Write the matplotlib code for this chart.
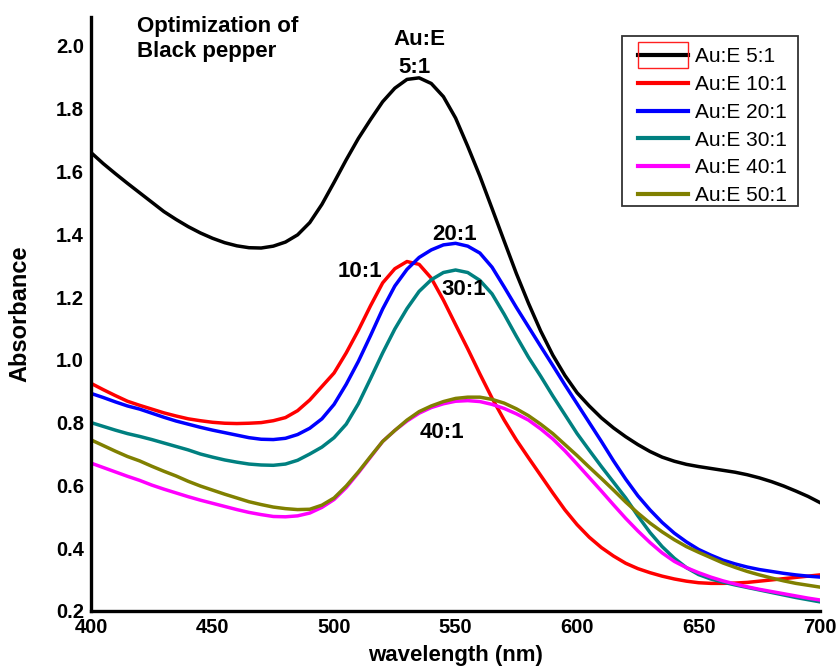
import matplotlib
matplotlib.use("Agg")
import matplotlib.pyplot as plt
from matplotlib.patches import Rectangle

plt.rcParams['font.family'] = ['Liberation Sans', 'DejaVu Sans']

wavelength = list(range(400, 701, 5))

# absorbance read every 5 nm, one list per Au:E ratio
abs_5 = [1.660, 1.625, 1.593, 1.562, 1.532, 1.502, 1.472, 1.447, 1.424, 1.404,
         1.387, 1.373, 1.363, 1.357, 1.356, 1.362, 1.375, 1.398, 1.437, 1.495,
         1.565, 1.637, 1.705, 1.765, 1.822, 1.865, 1.893, 1.898, 1.880, 1.838,
         1.770, 1.680, 1.585, 1.482, 1.378, 1.275, 1.180, 1.092, 1.015, 0.950,
         0.895, 0.853, 0.815, 0.783, 0.755, 0.730, 0.708, 0.690, 0.677, 0.667,
         0.660, 0.654, 0.648, 0.642, 0.634, 0.624, 0.612, 0.598, 0.582, 0.565,
         0.545]
abs_10 = [0.925, 0.905, 0.886, 0.868, 0.855, 0.843, 0.831, 0.821, 0.812, 0.806,
          0.801, 0.798, 0.797, 0.798, 0.800, 0.806, 0.816, 0.838, 0.872, 0.915,
          0.958, 1.022, 1.094, 1.172, 1.245, 1.290, 1.313, 1.304, 1.260, 1.190,
          1.112, 1.035, 0.955, 0.878, 0.808, 0.745, 0.688, 0.632, 0.576, 0.522,
          0.475, 0.435, 0.402, 0.375, 0.352, 0.335, 0.322, 0.311, 0.302, 0.295,
          0.290, 0.288, 0.288, 0.289, 0.291, 0.295, 0.299, 0.303, 0.307, 0.311,
          0.315]
abs_20 = [0.893, 0.880, 0.866, 0.853, 0.843, 0.830, 0.817, 0.805, 0.795, 0.785,
          0.776, 0.768, 0.760, 0.752, 0.747, 0.746, 0.750, 0.762, 0.782, 0.812,
          0.858, 0.922, 0.995, 1.077, 1.162, 1.235, 1.288, 1.326, 1.350, 1.366,
          1.371, 1.362, 1.340, 1.295, 1.232, 1.167, 1.105, 1.043, 0.982, 0.920,
          0.860, 0.800, 0.740, 0.678, 0.620, 0.567, 0.522, 0.482, 0.448, 0.420,
          0.396, 0.378, 0.362, 0.350, 0.340, 0.332, 0.326, 0.320, 0.315, 0.311,
          0.308]
abs_30 = [0.800, 0.788, 0.776, 0.765, 0.756, 0.746, 0.735, 0.724, 0.713, 0.700,
          0.690, 0.681, 0.674, 0.668, 0.665, 0.664, 0.668, 0.680, 0.700, 0.722,
          0.752, 0.795, 0.860, 0.940, 1.022, 1.098, 1.163, 1.218, 1.255, 1.278,
          1.286, 1.278, 1.253, 1.210, 1.145, 1.075, 1.008, 0.948, 0.885, 0.825,
          0.765, 0.712, 0.660, 0.610, 0.560, 0.503, 0.450, 0.405, 0.368, 0.338,
          0.316, 0.302, 0.292, 0.283, 0.275, 0.267, 0.259, 0.251, 0.243, 0.236,
          0.229]
abs_40 = [0.671, 0.657, 0.643, 0.629, 0.616, 0.601, 0.588, 0.576, 0.564, 0.553,
          0.543, 0.533, 0.523, 0.514, 0.507, 0.501, 0.500, 0.503, 0.512, 0.530,
          0.555, 0.593, 0.640, 0.690, 0.740, 0.775, 0.805, 0.830, 0.848, 0.860,
          0.868, 0.870, 0.867, 0.858, 0.845, 0.828, 0.808, 0.780, 0.748, 0.710,
          0.668, 0.625, 0.582, 0.538, 0.495, 0.455, 0.418, 0.385, 0.358, 0.338,
          0.322, 0.308, 0.296, 0.286, 0.277, 0.269, 0.262, 0.255, 0.248, 0.241,
          0.235]
abs_50 = [0.745, 0.727, 0.709, 0.692, 0.678, 0.661, 0.645, 0.630, 0.613, 0.598,
          0.585, 0.572, 0.560, 0.548, 0.539, 0.531, 0.526, 0.523, 0.524, 0.537,
          0.560, 0.598, 0.643, 0.692, 0.740, 0.775, 0.808, 0.835, 0.853, 0.867,
          0.877, 0.881, 0.881, 0.874, 0.862, 0.844, 0.822, 0.795, 0.765, 0.730,
          0.695, 0.658, 0.622, 0.585, 0.547, 0.512, 0.480, 0.452, 0.427, 0.405,
          0.387, 0.370, 0.353, 0.339, 0.326, 0.315, 0.305, 0.296, 0.288, 0.282,
          0.276]

series = [abs_5, abs_10, abs_20, abs_30, abs_40, abs_50]
labels = ['Au:E 5:1', 'Au:E 10:1', 'Au:E 20:1', 'Au:E 30:1', 'Au:E 40:1', 'Au:E 50:1']
colors = ['black', '#ff0000', '#0000ff', '#008080', '#ff00ff', '#808000']

fig = plt.figure(figsize=(8.39, 6.69), dpi=100)
ax = fig.add_axes([0.1085, 0.0867, 0.869, 0.888])

for y, lab, c in zip(series, labels, colors):
    ax.plot(wavelength, y, color=c, lw=2.5, label=lab, solid_joinstyle='round')

ax.set_xlim(400, 700)
ax.set_ylim(0.2, 2.092)
ax.set_xticks(range(400, 701, 50))
ax.set_yticks([0.2, 0.4, 0.6, 0.8, 1.0, 1.2, 1.4, 1.6, 1.8, 2.0])
ax.set_yticklabels(['0.2', '0.4', '0.6', '0.8', '1.0', '1.2', '1.4', '1.6', '1.8', '2.0'])
ax.tick_params(length=0, labelsize=14.5, pad=5)
for t in ax.get_xticklabels() + ax.get_yticklabels():
    t.set_fontweight('bold')

for side in ['top', 'right']:
    ax.spines[side].set_visible(False)
for side in ['left', 'bottom']:
    ax.spines[side].set_linewidth(2.4)

ax.set_xlabel('wavelength (nm)', fontsize=16, fontweight='bold', labelpad=6)
ax.set_ylabel('Absorbance', fontsize=17, fontweight='bold', labelpad=18)

# notes on the plot
ax.text(419, 2.095, 'Optimization of\nBlack pepper', fontsize=16, fontweight='bold',
        ha='left', va='top', linespacing=1.25)
ax.text(535, 2.02, 'Au:E', fontsize=16, fontweight='bold', ha='center', va='center')
ax.text(533, 1.93, '5:1', fontsize=16, fontweight='bold', ha='center', va='center')
ax.text(549.5, 1.40, '20:1', fontsize=16, fontweight='bold', ha='center', va='center')
ax.text(510.5, 1.28, '10:1', fontsize=16, fontweight='bold', ha='center', va='center')
ax.text(553.5, 1.225, '30:1', fontsize=16, fontweight='bold', ha='center', va='center')
ax.text(544.5, 0.77, '40:1', fontsize=16, fontweight='bold', ha='center', va='center')

leg = ax.legend(loc='upper right', bbox_to_anchor=(0.963, 0.960), borderaxespad=0,
                fontsize=15, frameon=False, handlelength=2.4,
                handletextpad=0.3, labelspacing=0.42, borderpad=0.32)
for h in leg.legend_handles:
    h.set_linewidth(3)

# legend frame drawn by hand around the entries (pixel margins)
fig.canvas.draw()
inv = fig.transFigure.inverted()
W, H = fig.bbox.width, fig.bbox.height
first = leg.legend_handles[0].get_window_extent()
last = leg.legend_handles[-1].get_window_extent()
texts = [t.get_window_extent() for t in leg.get_texts()]
x0 = first.x0 - 16
x1 = max(t.x1 for t in texts) + 12
ytop = (first.y0 + first.y1) / 2 + 19.5
ybot = (last.y0 + last.y1) / 2 - 12.5
fig.add_artist(Rectangle((x0 / W, ybot / H), (x1 - x0) / W, (ytop - ybot) / H,
                         transform=fig.transFigure, fill=False,
                         edgecolor='#333333', lw=1.3, zorder=5))

# red selection box around the first legend handle
hb = first.transformed(inv)
pad_y = 13 / H
fig.add_artist(Rectangle((hb.x0, hb.y0 - pad_y), hb.width, 2 * pad_y + hb.height,
                         transform=fig.transFigure, fill=False, edgecolor='#ff2020', lw=1))

fig.savefig('out.png', dpi=100)
